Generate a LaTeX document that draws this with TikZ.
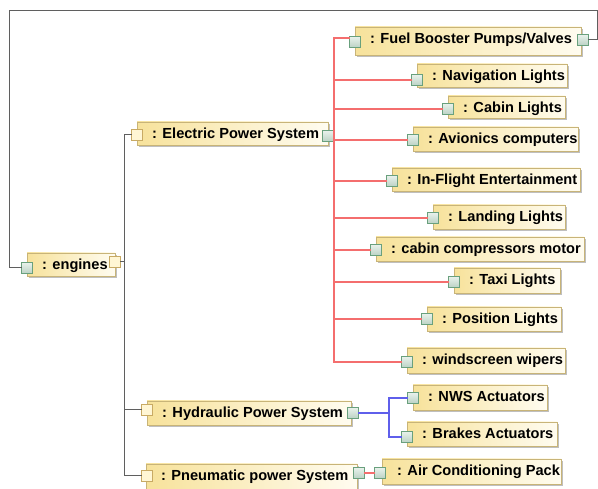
\documentclass[tikz,border=0pt]{standalone}
\usepackage{fontspec}
\setmainfont{Liberation Sans}
\usetikzlibrary{shadows}
\definecolor{boxL}{RGB}{247,226,155}
\definecolor{boxR}{RGB}{255,252,240}
\definecolor{boxB}{RGB}{200,180,120}
\definecolor{gpT}{RGB}{232,241,235}
\definecolor{gpB}{RGB}{188,211,197}
\definecolor{gpD}{RGB}{105,160,125}
\definecolor{ypF}{RGB}{255,246,212}
\definecolor{ypD}{RGB}{200,170,100}
\definecolor{lineK}{RGB}{95,95,95}
\definecolor{lineR}{RGB}{244,110,110}
\definecolor{lineB}{RGB}{95,95,235}
\tikzset{
  umlbox/.style={draw=boxB, line width=0.8pt, left color=boxL, right color=boxR,
    inner sep=0pt, outer sep=0pt, anchor=north west,
    drop shadow={shadow xshift=2.2pt, shadow yshift=-2.2pt, fill=black!55, opacity=0.45}},
  umltxt/.style={font=\bfseries\fontsize{14.6}{16}\selectfont, inner sep=0pt, anchor=base west},
  gport/.style={draw=gpD, line width=0.7pt, top color=gpT, bottom color=gpB,
    minimum size=10.5pt, inner sep=0pt, outer sep=0pt},
  yport/.style={draw=ypD, line width=0.7pt, fill=ypF,
    minimum size=10.5pt, inner sep=0pt, outer sep=0pt},
  kline/.style={draw=lineK, line width=1pt},
  rline/.style={draw=lineR, line width=1.3pt},
  bline/.style={draw=lineB, line width=1.2pt},
}
\newcommand\umlbox[6]{%
  \node[umlbox, minimum width={(#4-#2)*1pt}, minimum height={(#5-#3)*1pt}] (#1) at (#2,#3) {};
  \node[umltxt] (#1-t) at ([xshift=15pt, yshift=-16.5pt]#1.north west) {#6};
}
\begin{document}
\begin{tikzpicture}[x=1pt,y=-1pt]
\useasboundingbox[fill=white] (0,0) rectangle (598,489);

% boxes
\umlbox{eng}{27}{253}{115}{276}{: engines}
\umlbox{eps}{137}{122}{328}{145}{: Electric Power System}
\umlbox{fuel}{355}{27}{581}{55}{: Fuel Booster Pumps/Valves}
\umlbox{nav}{417}{64}{567}{87}{: Navigation Lights}
\umlbox{cab}{448}{96}{565}{118}{: Cabin Lights}
\umlbox{avi}{413}{127}{578}{151}{: Avionics computers}
\umlbox{ife}{392}{168}{580}{191}{: In-Flight Entertainment}
\umlbox{lan}{433}{205}{565}{229}{: Landing Lights}
\umlbox{ccm}{376}{237}{584}{261}{: cabin compressors motor}
\umlbox{tax}{454}{268}{560}{293}{: Taxi Lights}
\umlbox{pos}{427}{307}{561}{331}{: Position Lights}
\umlbox{wip}{407}{348}{565}{373}{: windscreen wipers}
\umlbox{hyd}{147}{401}{351}{425}{: Hydraulic Power System}
\umlbox{pn}{146}{464}{357}{492}{: Pneumatic power System}
\umlbox{nws}{413}{385}{547}{410}{: NWS Actuators}
\umlbox{brk}{407}{422}{557}{446}{: Brakes Actuators}
\umlbox{ac}{382}{459}{561}{484}{: Air Conditioning Pack}

% ports
\node[gport] (eng-l) at (27,268) {};
\node[yport] (eng-r) at (115,262) {};
\node[yport] (eps-l) at (137,135) {};
\node[gport] (eps-r) at (328,136) {};
\node[gport] (fuel-l) at (355,42) {};
\node[gport] (fuel-r) at (583,40) {};
\node[gport] (nav-p) at (417,80) {};
\node[gport] (cab-p) at (448,109) {};
\node[gport] (avi-p) at (413,140) {};
\node[gport] (ife-p) at (392,181) {};
\node[gport] (lan-p) at (433,218) {};
\node[gport] (ccm-p) at (376,250) {};
\node[gport] (tax-p) at (454,282) {};
\node[gport] (pos-p) at (427,319) {};
\node[gport] (wip-p) at (407,362) {};
\node[yport] (hyd-l) at (147,410) {};
\node[gport] (hyd-r) at (353,413) {};
\node[yport] (pn-l) at (147,476) {};
\node[gport] (pn-r) at (359,473) {};
\node[gport] (nws-p) at (413,398) {};
\node[gport] (brk-p) at (407,437) {};
\node[gport] (ac-p) at (380,473) {};

% trunk coordinates
\coordinate (tK) at (124,0);
\coordinate (tE) at (334,0);
\coordinate (tH) at (389,0);
\coordinate (loopTL) at (9,11);
\coordinate (loopTR) at (597,11);

% outer loop engines -> fuel booster
\draw[kline] (eng-l.west) -| (loopTL) -- (loopTR) |- (fuel-r.east);

% engines -> subsystems
\draw[kline] (eng-r.east) -| (tK |- eps-l) -- (eps-l.west);
\draw[kline] (eng-r.east) -| (tK |- hyd-l) -- (hyd-l.west);
\draw[kline] (eng-r.east) -| (tK |- pn-l) -- (pn-l.west);

% electric power distribution
\draw[rline] (eps-r.east) -- (tE |- eps-r) |- ([yshift=4pt]fuel-l.west);
\foreach \p in {nav-p,cab-p,avi-p,ife-p,lan-p,ccm-p,tax-p,pos-p,wip-p}
  \draw[rline] (eps-r.east) -- (tE |- eps-r) |- (\p.west);

% hydraulic
\draw[bline] (hyd-r.east) -| (tH |- nws-p) -- (nws-p.west);
\draw[bline] (hyd-r.east) -| (tH |- brk-p) -- (brk-p.west);

% pneumatic
\draw[rline] (pn-r.east) -- (ac-p.west);
\end{tikzpicture}
\end{document}
